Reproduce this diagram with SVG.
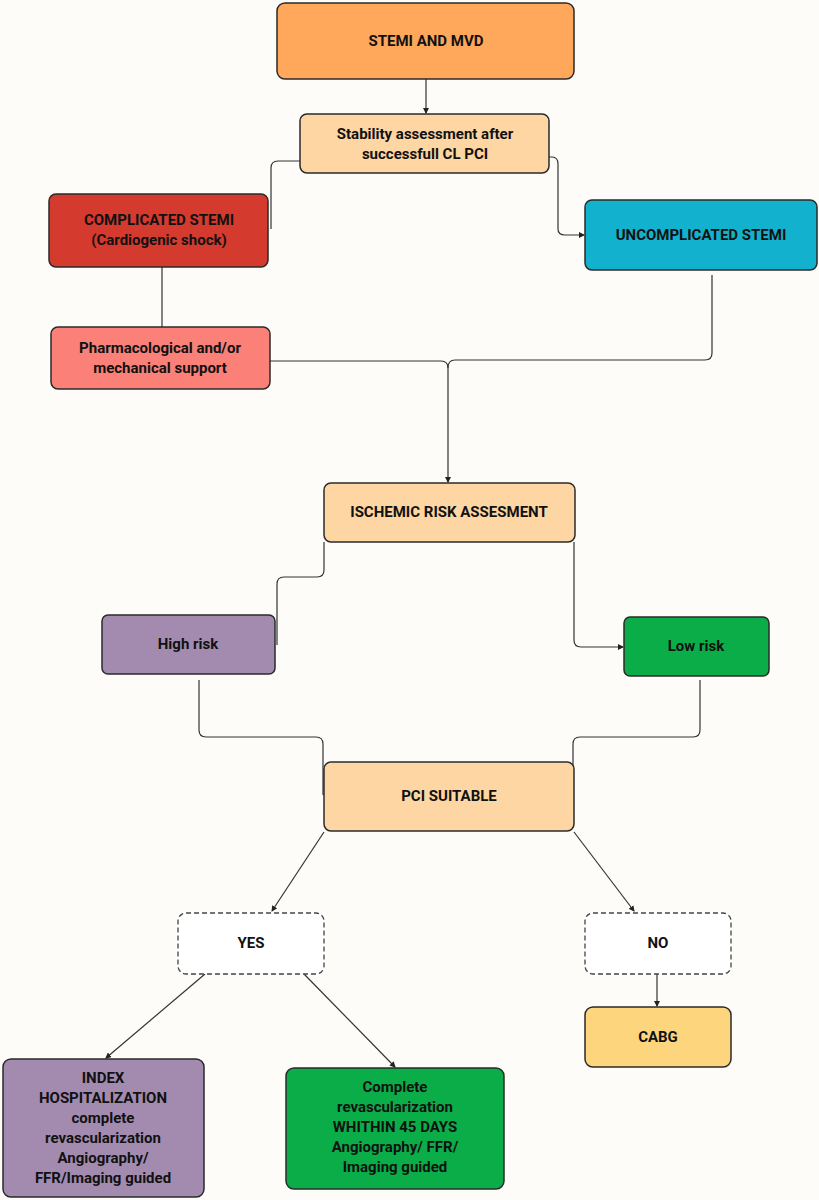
<svg xmlns="http://www.w3.org/2000/svg" width="819" height="1200" viewBox="0 0 819 1200">
<style>
.n{stroke:#2a2a2a;stroke-width:1.5}
.d{fill:#fff;stroke:#444;stroke-width:1.3;stroke-dasharray:5 3}
text{font-family:Roboto,"Liberation Sans",sans-serif;font-weight:bold;font-size:15px;fill:#111;text-anchor:middle;dominant-baseline:middle}
.c{fill:none;stroke:#333;stroke-width:1.2}
</style>
<defs><marker id="a" markerWidth="6" markerHeight="6" refX="5" refY="3" orient="auto" markerUnits="userSpaceOnUse"><path d="M0,0L6,3L0,6z" fill="#222"/></marker></defs>
<rect width="819" height="1200" fill="#FDFCF8"/>
<g id="connectors">
<path class="c" d="M426,79V113" marker-end="url(#a)"/>
<path class="c" d="M300,161H278Q271,161 271,168V229"/>
<path class="c" d="M549,157H552Q558,157 558,164V229Q558,235 565,235H584" marker-end="url(#a)"/>
<path class="c" d="M162,267V327"/>
<path class="c" d="M270,361H441Q448,361 448,368"/>
<path class="c" d="M712,275V353Q712,360 705,360H455Q448,360 448,368V482" marker-end="url(#a)"/>
<path class="c" d="M324,542V570Q324,577 317,577H284Q277,577 277,584V645"/>
<path class="c" d="M574,542V640Q574,647 581,647H623" marker-end="url(#a)"/>
<path class="c" d="M199,680V730Q199,737 206,737H316Q323,737 323,744V795"/>
<path class="c" d="M700,680V730Q700,737 693,737H580Q573,737 573,744V795"/>
<path class="c" d="M324,832L272,911" marker-end="url(#a)"/>
<path class="c" d="M574,832L634,911" marker-end="url(#a)"/>
<path class="c" d="M205,974L106,1058" marker-end="url(#a)"/>
<path class="c" d="M304,974L395,1067" marker-end="url(#a)"/>
<path class="c" d="M657,974V1006" marker-end="url(#a)"/>
</g>
<g id="stemi"><rect class="n" x="277" y="3" width="297" height="76" rx="8" fill="#FFA75A"/><text x="426" y="42">STEMI AND MVD</text></g>
<g id="stability"><rect class="n" x="300" y="114" width="249" height="59" rx="7" fill="#FDD6A3"/><text x="425" y="135">Stability assessment after</text><text x="425" y="155">successfull CL PCI</text></g>
<g id="complicated"><rect class="n" x="49" y="194" width="219" height="73" rx="7" fill="#D53A2F"/><text x="159" y="221">COMPLICATED STEMI</text><text x="159" y="241">(Cardiogenic shock)</text></g>
<g id="uncomplicated"><rect class="n" x="585" y="200" width="232" height="70" rx="7" fill="#12B2CE"/><text x="701" y="236">UNCOMPLICATED STEMI</text></g>
<g id="pharma"><rect class="n" x="51" y="327" width="219" height="62" rx="7" fill="#FB8078"/><text x="160" y="349">Pharmacological and/or</text><text x="160" y="369">mechanical support</text></g>
<g id="ischemic"><rect class="n" x="324" y="483" width="251" height="59" rx="7" fill="#FDD6A3"/><text x="449" y="513">ISCHEMIC RISK ASSESMENT</text></g>
<g id="high"><rect class="n" x="102" y="615" width="173" height="59" rx="6" fill="#A38BB0"/><text x="188" y="645">High risk</text></g>
<g id="low"><rect class="n" x="624" y="617" width="145" height="59" rx="6" fill="#0BAD48"/><text x="696" y="647">Low risk</text></g>
<g id="pci"><rect class="n" x="324" y="762" width="250" height="69" rx="7" fill="#FDD6A3"/><text x="449" y="797">PCI SUITABLE</text></g>
<g id="yes"><rect class="d" x="178" y="913" width="146" height="61" rx="8"/><text x="251" y="944">YES</text></g>
<g id="no"><rect class="d" x="585" y="913" width="146" height="61" rx="8"/><text x="658" y="944">NO</text></g>
<g id="cabg"><rect class="n" x="585" y="1007" width="146" height="60" rx="8" fill="#FDD57C"/><text x="658" y="1038">CABG</text></g>
<g id="index"><rect class="n" x="3" y="1059" width="201" height="138" rx="8" fill="#A38BB0"/><text x="103" y="1079">INDEX</text><text x="103" y="1099">HOSPITALIZATION</text><text x="103" y="1119">complete</text><text x="103" y="1139">revascularization</text><text x="103" y="1159">Angiography/</text><text x="103" y="1179">FFR/Imaging guided</text></g>
<g id="complete"><rect class="n" x="286" y="1068" width="218" height="121" rx="8" fill="#0BAD48"/><text x="395" y="1088">Complete</text><text x="395" y="1108">revascularization</text><text x="395" y="1128">WHITHIN 45 DAYS</text><text x="395" y="1148">Angiography/ FFR/</text><text x="395" y="1168">Imaging guided</text></g>
</svg>
